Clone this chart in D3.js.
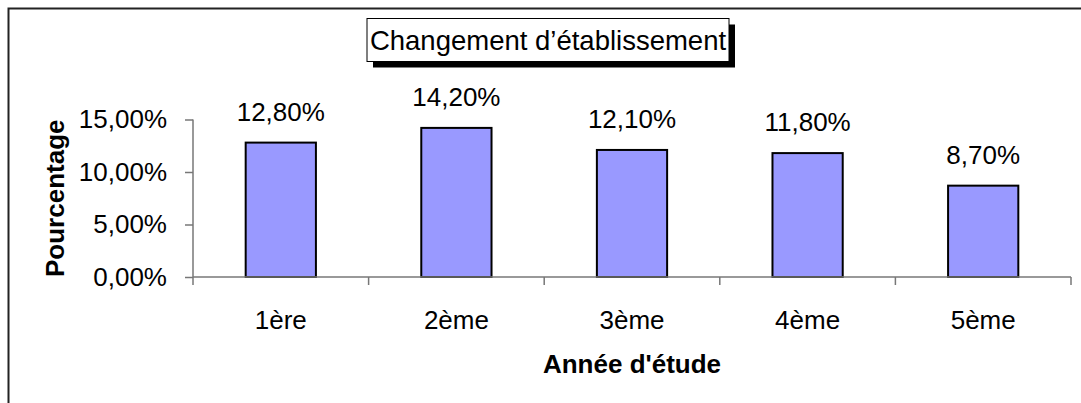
<!DOCTYPE html>
<html>
<head>
<meta charset="utf-8">
<script src="https://cdn.jsdelivr.net/npm/d3@7"></script>
<style>
  body { margin: 0; background: #fff; }
  text { font-family: Arial, "Liberation Sans", sans-serif; fill: #000; }
</style>
</head>
<body>
<div id="chart"></div>
<script>
// chart data
var categories = ["1ère", "2ème", "3ème", "4ème", "5ème"];
var values = [12.8, 14.2, 12.1, 11.8, 8.7];
var yTicks = [0, 5, 10, 15];
var title = "Changement d’établissement";
var xTitle = "Année d'étude";
var yTitle = "Pourcentage";

var W = 1081, H = 403;
var FS = "26px";
var svg = d3.select("#chart").append("svg").attr("width", W).attr("height", H);

// outer frame (runs off the right/bottom edge)
svg.append("rect")
    .attr("x", 8.5).attr("y", 8.5)
    .attr("width", W + 20).attr("height", H + 20)
    .attr("fill", "none").attr("stroke", "#222").attr("stroke-width", 2);

var pLeft = 193, pRight = 1071, pTop = 119.5, pBottom = 277;

var x = d3.scaleBand().domain(categories).range([pLeft, pRight]).paddingInner(0.6).paddingOuter(0.3);
var y = d3.scaleLinear().domain([0, 15]).range([pBottom, pTop]);

var fmt = function(v) { return v.toFixed(2).replace(".", ",") + "%"; };

// bars
svg.selectAll("rect.bar")
    .data(values)
    .enter().append("rect")
    .attr("class", "bar")
    .attr("x", function(d, i) { return x(categories[i]); })
    .attr("y", function(d) { return y(d); })
    .attr("width", x.bandwidth())
    .attr("height", function(d) { return y(0) - y(d); })
    .attr("fill", "#9999ff")
    .attr("stroke", "#000").attr("stroke-width", 2);

// y axis
var yAxis = svg.append("g")
    .attr("transform", "translate(" + pLeft + ",0)")
    .call(d3.axisLeft(y).tickValues(yTicks).tickSize(8).tickPadding(18).tickFormat(fmt));
yAxis.select(".domain").attr("stroke", "#777").attr("stroke-width", 1.5)
    .attr("d", "M0," + pTop + "V" + (pBottom + 8));
yAxis.selectAll(".tick line").attr("stroke", "#777").attr("stroke-width", 1.5);
yAxis.selectAll("text").style("font-size", FS).attr("fill", "#000")
    .style("font-family", "Arial, 'Liberation Sans', sans-serif");

// x axis: line + category separators
var xb = d3.scaleBand().domain(categories).range([pLeft, pRight]);
svg.append("line")
    .attr("x1", pLeft).attr("x2", pRight).attr("y1", pBottom).attr("y2", pBottom)
    .attr("stroke", "#777").attr("stroke-width", 1.5);
svg.selectAll("line.sep")
    .data(categories)
    .enter().append("line")
    .attr("class", "sep")
    .attr("x1", function(d) { return xb(d) + xb.bandwidth(); })
    .attr("x2", function(d) { return xb(d) + xb.bandwidth(); })
    .attr("y1", pBottom).attr("y2", pBottom + 8)
    .attr("stroke", "#777").attr("stroke-width", 1.5);

svg.selectAll("text.cat")
    .data(categories)
    .enter().append("text")
    .attr("class", "cat")
    .attr("x", function(d) { return xb(d) + xb.bandwidth() / 2; })
    .attr("y", 329)
    .attr("text-anchor", "middle")
    .style("font-size", FS)
    .text(function(d) { return d; });

// value labels
svg.selectAll("text.val")
    .data(values)
    .enter().append("text")
    .attr("class", "val")
    .attr("x", function(d, i) { return x(categories[i]) + x.bandwidth() / 2; })
    .attr("y", function(d) { return y(d) - 22; })
    .attr("text-anchor", "middle")
    .style("font-size", FS)
    .text(fmt);

// axis titles
svg.append("text")
    .attr("x", (pLeft + pRight) / 2).attr("y", 373)
    .attr("text-anchor", "middle")
    .style("font-size", FS).style("font-weight", "bold")
    .text(xTitle);

svg.append("text")
    .attr("transform", "translate(64," + ((pTop + pBottom) / 2) + ") rotate(-90)")
    .attr("text-anchor", "middle")
    .style("font-size", FS).style("font-weight", "bold")
    .text(yTitle);

// title box with shadow
var tb = { x: 367, y: 18.5, w: 362, h: 43 };
svg.append("rect")
    .attr("x", tb.x + 6).attr("y", tb.y + 6).attr("width", tb.w).attr("height", tb.h)
    .attr("fill", "#000");
svg.append("rect")
    .attr("x", tb.x).attr("y", tb.y).attr("width", tb.w).attr("height", tb.h)
    .attr("fill", "#fff").attr("stroke", "#000").attr("stroke-width", 1);
svg.append("text")
    .attr("x", tb.x + tb.w / 2).attr("y", tb.y + 31)
    .attr("text-anchor", "middle")
    .style("font-size", "27.5px")
    .text(title);
</script>
</body>
</html>
